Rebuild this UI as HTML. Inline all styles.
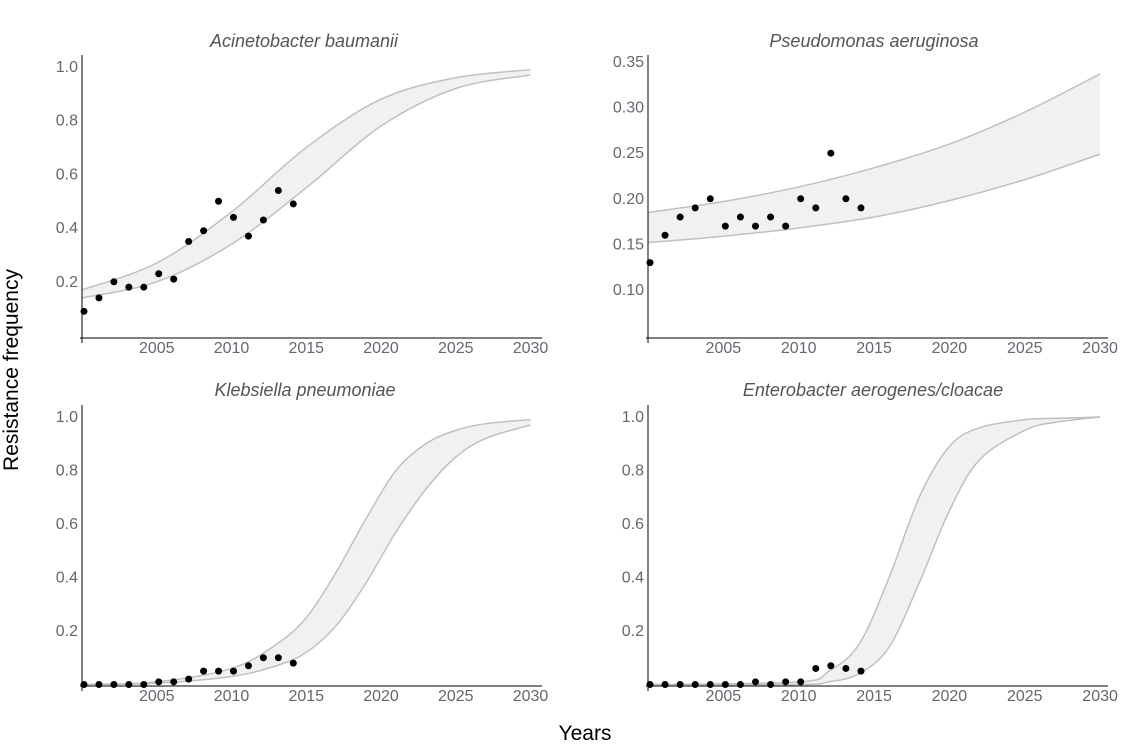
<!DOCTYPE html>
<html><head><meta charset="utf-8"><style>
body{margin:0;background:#fff;}
svg text{font-family:"Liberation Sans",sans-serif;}
</style></head><body>
<svg id="chart" width="1136" height="743" xmlns="http://www.w3.org/2000/svg">
<text x="18" y="370" font-size="21" fill="#000" transform="rotate(-90 18 370)" text-anchor="middle">Resistance frequency</text>
<text x="585" y="740" font-size="21" fill="#000" text-anchor="middle">Years</text>
</svg>
<script>
const years = [2000,2001,2002,2003,2004,2005,2006,2007,2008,2009,2010,2011,2012,2013,2014];
const titles = ["Acinetobacter baumanii","Pseudomonas aeruginosa","Klebsiella pneumoniae","Enterobacter aerogenes/cloacae"];
const ptsA = [0.09,0.14,0.20,0.18,0.18,0.23,0.21,0.35,0.39,0.50,0.44,0.37,0.43,0.54,0.49];
const ptsP = [0.13,0.16,0.18,0.19,0.20,0.17,0.18,0.17,0.18,0.17,0.20,0.19,0.25,0.20,0.19];
const ptsK = [0,0,0,0,0,0.01,0.01,0.02,0.05,0.05,0.05,0.07,0.10,0.10,0.08];
const ptsE = [0,0,0,0,0,0,0,0.01,0,0.01,0.01,0.06,0.07,0.06,0.05];
const bandYearsA = [2000,2005,2010,2015,2020,2025,2030];
const upperA = [0.17,0.27,0.46,0.70,0.88,0.96,0.99];
const lowerA = [0.14,0.20,0.34,0.55,0.78,0.92,0.97];
const bandYearsP = [2000,2005,2010,2015,2020,2025,2030];
const upperP = [0.185,0.197,0.213,0.234,0.260,0.295,0.337];
const lowerP = [0.152,0.159,0.168,0.180,0.198,0.221,0.249];
const bandYearsK = [2000,2005,2010,2013,2015,2017,2019,2021,2023,2025,2027,2030];
const upperK = [0,0.01,0.06,0.15,0.25,0.42,0.62,0.80,0.90,0.95,0.975,0.99];
const lowerK = [0,0.005,0.03,0.07,0.12,0.22,0.38,0.57,0.73,0.85,0.92,0.97];
const bandYearsE = [2000,2010,2012,2014,2016,2018,2020,2022,2025,2027,2030];
const upperE = [0,0.01,0.05,0.15,0.40,0.70,0.89,0.96,0.99,0.995,1.0];
const lowerE = [0,0,0.01,0.04,0.14,0.38,0.65,0.84,0.95,0.98,1.0];
const xTicks = [2005,2010,2015,2020,2025,2030];
const yTicks01 = [0.2,0.4,0.6,0.8,1.0];
const yTicksP = [0.10,0.15,0.20,0.25,0.30,0.35];

const svg = document.getElementById('chart');
const NS = "http://www.w3.org/2000/svg";
function mk(tag, attrs, parent){const e=document.createElementNS(NS,tag);for(const k in attrs)e.setAttribute(k,attrs[k]);(parent||svg).appendChild(e);return e;}

function smooth(P){let d=`M${P[0][0]},${P[0][1]}`;for(let i=0;i<P.length-1;i++){const p0=P[Math.max(0,i-1)],p1=P[i],p2=P[i+1],p3=P[Math.min(P.length-1,i+2)];
const c1=[p1[0]+(p2[0]-p0[0])/6,p1[1]+(p2[1]-p0[1])/6],c2=[p2[0]-(p3[0]-p1[0])/6,p2[1]-(p3[1]-p1[1])/6];d+=` C${c1[0]},${c1[1]} ${c2[0]},${c2[1]} ${p2[0]},${p2[1]}`;}return d;}

function panel(cfg){
  const g = mk('g',{});
  
  
  const X = y => cfg.x0 + (y-2000)*cfg.xs;
  const Y = v => cfg.yZero - (v-cfg.vZero)*cfg.ys;
  const up = cfg.bandYears.map((yr,i)=>[X(yr),Y(cfg.upper[i])]);
  const lo = cfg.bandYears.map((yr,i)=>[X(yr),Y(cfg.lower[i])]);
  const loRev = lo.slice().reverse();
  const fill = mk('path',{d:smooth(up)+' L'+smooth(loRev).slice(1)+' Z',fill:'#f1f1f1',stroke:'none'},g);
  
  
  const u = mk('path',{d:smooth(up),fill:'none',stroke:'#c0c0c0','stroke-width':1.5},g);
  
  
  const l = mk('path',{d:smooth(lo),fill:'none',stroke:'#c0c0c0','stroke-width':1.5},g);
  
  
  const ax = mk('line',{x1:cfg.x0-2,y1:cfg.axisY,x2:cfg.x0+460,y2:cfg.axisY,stroke:'#000','stroke-width':1},g);
  
  
  const ay = mk('line',{x1:cfg.x0,y1:cfg.axisTop,x2:cfg.x0,y2:cfg.axisY+5,stroke:'#000','stroke-width':1},g);
  
  
  xTicks.forEach(t=>{
    const tx = mk('text',{x:X(t),y:cfg.axisY+15,'font-size':16,fill:'#666672','text-anchor':'middle'},g);
    tx.textContent = t;
    
    
  });
  cfg.yTicks.forEach(t=>{
    const tx = mk('text',{x:cfg.x0-4,y:Y(t)+5,'font-size':16,fill:'#666672','text-anchor':'end'},g);
    tx.textContent = t.toFixed(cfg.dec);
    
    
  });
  cfg.pts.forEach((v,i)=>{
    const c = mk('circle',{cx:X(years[i])+2,cy:Y(v),r:3.5,fill:'#000'},g);
    
    
  });
  const tt = mk('text',{x:cfg.titleX,y:cfg.titleY,'font-size':18,fill:'#555','font-style':'italic','text-anchor':'middle'},g);
  tt.textContent = cfg.title;
  
  
}
panel({name:'panel-acinetobacter',title:titles[0],titleX:304,x0:82,xs:14.95,yZero:335.5,vZero:0,ys:268.5,axisY:338,axisTop:55,titleY:47,yTicks:yTicks01,dec:1,pts:ptsA,bandYears:bandYearsA,upper:upperA,lower:lowerA});
panel({name:'panel-pseudomonas',title:titles[1],titleX:874,x0:648,xs:15.07,yZero:290,vZero:0.10,ys:912,axisY:338,axisTop:55,titleY:47,yTicks:yTicksP,dec:2,pts:ptsP,bandYears:bandYearsP,upper:upperP,lower:lowerP});
panel({name:'panel-klebsiella',title:titles[2],titleX:305,x0:82,xs:14.95,yZero:684.5,vZero:0,ys:267.5,axisY:686,axisTop:405,titleY:396,yTicks:yTicks01,dec:1,pts:ptsK,bandYears:bandYearsK,upper:upperK,lower:lowerK});
panel({name:'panel-enterobacter',title:titles[3],titleX:873,x0:648,xs:15.07,yZero:684.5,vZero:0,ys:267.5,axisY:686,axisTop:405,titleY:396,yTicks:yTicks01,dec:1,pts:ptsE,bandYears:bandYearsE,upper:upperE,lower:lowerE});
</script>
</body></html>
